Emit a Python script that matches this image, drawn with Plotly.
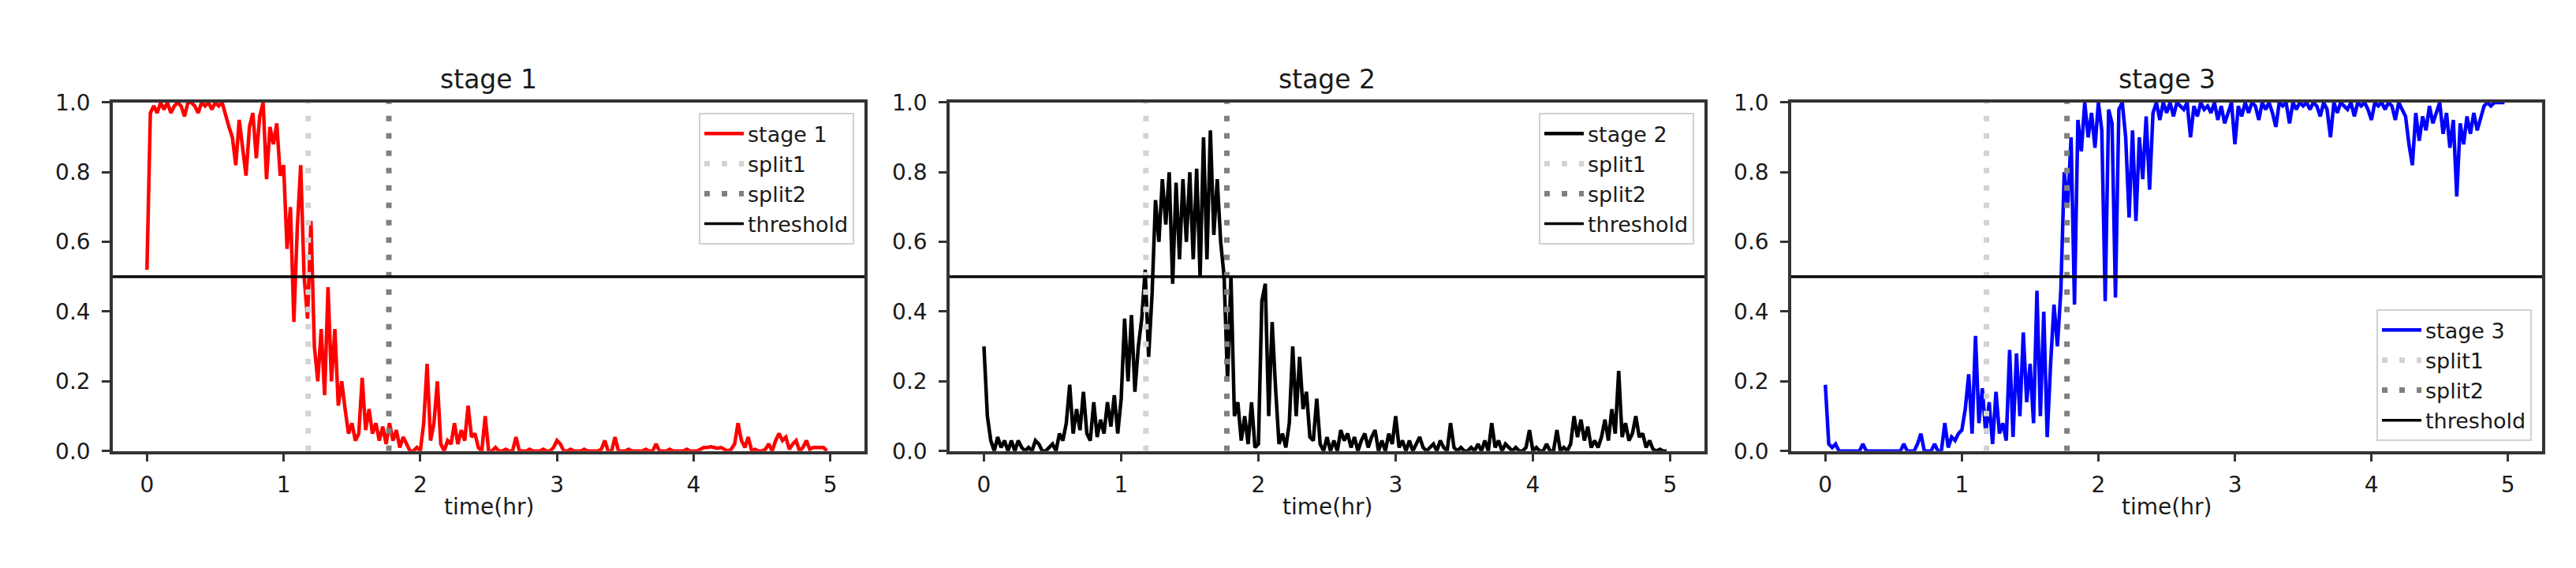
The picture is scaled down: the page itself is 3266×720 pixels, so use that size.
import plotly.graph_objects as go

# ---------------- data ----------------
T_START = 0.0
T_STEP = 0.025
N_POINTS = 200
time_hr = [round(T_START + i * T_STEP, 4) for i in range(N_POINTS)]

stage1 = [
    0.52, 0.97, 0.99, 0.97, 1.0, 0.98, 1.0, 0.97, 0.99, 1.0,
    0.99, 0.96, 1.0, 1.0, 0.99, 0.97, 1.0, 0.99, 1.0, 0.98,
    1.0, 0.99, 1.0, 0.96, 0.93, 0.9, 0.82, 0.95, 0.86, 0.79,
    0.93, 0.97, 0.84, 0.96, 1.0, 0.78, 0.93, 0.88, 0.94, 0.79,
    0.82, 0.58, 0.7, 0.37, 0.64, 0.82, 0.5, 0.38, 0.66, 0.3,
    0.2, 0.35, 0.16, 0.47, 0.2, 0.35, 0.13, 0.2, 0.12, 0.05,
    0.08, 0.03, 0.05, 0.21, 0.06, 0.12, 0.05, 0.08, 0.03, 0.07,
    0.02, 0.08, 0.03, 0.06, 0.01, 0.04, 0.02, 0.0, 0.0, 0.01,
    0.0, 0.08, 0.25, 0.03, 0.08, 0.2, 0.02, 0.0, 0.03, 0.02,
    0.08, 0.02, 0.06, 0.03, 0.13, 0.04, 0.05, 0.01, 0.0, 0.1,
    0.0, 0.0, 0.01, 0.0, 0.0, 0.005, 0.0, 0.0, 0.04, 0.0,
    0.0, 0.0, 0.005, 0.0, 0.0, 0.0, 0.005, 0.0, 0.0, 0.01,
    0.03, 0.02, 0.0, 0.0, 0.005, 0.0, 0.0, 0.0, 0.005, 0.0,
    0.0, 0.0, 0.0, 0.005, 0.03, 0.0, 0.0, 0.04, 0.0, 0.0,
    0.0, 0.005, 0.0, 0.0, 0.0, 0.0, 0.005, 0.0, 0.0, 0.02,
    0.0, 0.0, 0.0, 0.005, 0.0, 0.0, 0.0, 0.0, 0.005, 0.0,
    0.0, 0.0, 0.005, 0.01, 0.01, 0.012, 0.01, 0.008, 0.01, 0.005,
    0.0, 0.005, 0.02, 0.08, 0.03, 0.01, 0.04, 0.0, 0.005, 0.0,
    0.0, 0.005, 0.02, 0.0, 0.03, 0.05, 0.03, 0.04, 0.005, 0.02,
    0.03, 0.0, 0.01, 0.03, 0.005, 0.01, 0.01, 0.008, 0.01, 0.0,
]

stage2 = [
    0.3, 0.1, 0.03, 0.0, 0.04, 0.01, 0.03, 0.0, 0.03, 0.0,
    0.03, 0.01, 0.0, 0.01, 0.0, 0.03, 0.02, 0.0, 0.0, 0.01,
    0.02, 0.0, 0.05, 0.03, 0.08, 0.19, 0.05, 0.12, 0.06, 0.17,
    0.05, 0.03, 0.14, 0.04, 0.09, 0.05, 0.14, 0.07, 0.16, 0.05,
    0.15, 0.38, 0.2, 0.39, 0.17, 0.3, 0.38, 0.52, 0.27, 0.45,
    0.72, 0.6, 0.78, 0.65, 0.8, 0.48, 0.77, 0.55, 0.78, 0.6,
    0.8, 0.55, 0.81, 0.5, 0.9, 0.55, 0.92, 0.62, 0.78, 0.6,
    0.5, 0.2, 0.5, 0.1, 0.14, 0.03, 0.1, 0.02, 0.14, 0.01,
    0.02, 0.43, 0.48, 0.1, 0.37, 0.18, 0.02, 0.05, 0.01, 0.08,
    0.3, 0.1, 0.27, 0.12, 0.17, 0.04, 0.03, 0.15, 0.02, 0.0,
    0.04, 0.0, 0.03, 0.0, 0.06, 0.03, 0.05, 0.01, 0.04, 0.0,
    0.03, 0.05, 0.01, 0.04, 0.06, 0.0, 0.03, 0.0, 0.05, 0.02,
    0.1, 0.01, 0.03, 0.0, 0.03, 0.0, 0.02, 0.04, 0.01, 0.0,
    0.01, 0.02, 0.0, 0.03, 0.01, 0.0, 0.08, 0.01, 0.0, 0.01,
    0.0, 0.0, 0.01, 0.0, 0.02, 0.0, 0.03, 0.0, 0.08, 0.01,
    0.03, 0.0, 0.02, 0.01, 0.0, 0.01, 0.0, 0.0, 0.01, 0.06,
    0.0, 0.01, 0.0, 0.0, 0.02, 0.0, 0.0, 0.06, 0.0, 0.01,
    0.0, 0.02, 0.10, 0.04, 0.09, 0.03, 0.07, 0.01, 0.03, 0.01,
    0.04, 0.09, 0.03, 0.12, 0.05, 0.23, 0.04, 0.08, 0.03, 0.05,
    0.10, 0.04, 0.05, 0.01, 0.03, 0.005, 0.0, 0.005, 0.0, 0.0,
]

stage3 = [
    0.19, 0.02, 0.01, 0.02, 0.0, 0.0, 0.0, 0.0, 0.0, 0.0,
    0.0, 0.02, 0.0, 0.0, 0.0, 0.0, 0.0, 0.0, 0.0, 0.0,
    0.0, 0.0, 0.0, 0.02, 0.0, 0.0, 0.0, 0.02, 0.05, 0.0,
    0.0, 0.0, 0.02, 0.0, 0.0, 0.08, 0.01, 0.04, 0.03, 0.05,
    0.06, 0.12, 0.22, 0.05, 0.33, 0.08, 0.18, 0.05, 0.14, 0.02,
    0.17, 0.05, 0.08, 0.03, 0.29, 0.04, 0.28, 0.1, 0.34, 0.14,
    0.25, 0.08, 0.46, 0.1, 0.4, 0.04, 0.25, 0.42, 0.3, 0.46,
    0.8, 0.7, 0.9, 0.42, 0.95, 0.86, 1.0, 0.9, 0.97, 0.87,
    1.0, 0.92, 0.43, 0.98, 0.94, 0.44, 0.98, 1.0, 0.9, 0.67,
    0.92, 0.66, 0.9, 0.78, 0.96, 0.75, 0.97, 1.0, 0.95, 1.0,
    0.97, 1.0, 0.96, 1.0, 0.99, 0.98, 1.0, 0.9, 0.99, 0.96,
    1.0, 0.98, 0.99, 0.97, 1.0, 0.95, 0.99, 0.94, 0.97, 1.0,
    0.88, 0.99, 0.96, 1.0, 0.97, 1.0, 0.99, 0.95, 1.0, 0.98,
    1.0, 0.97, 0.93, 1.0, 0.99, 1.0, 0.94, 1.0, 0.98, 1.0,
    0.99, 1.0, 0.98, 1.0, 0.99, 0.96, 1.0, 0.98, 0.90, 1.0,
    0.97, 1.0, 0.99, 0.98, 1.0, 0.96, 1.0, 0.99, 1.0, 0.98,
    0.95, 1.0, 0.99, 1.0, 0.98, 1.0, 0.99, 0.95, 1.0, 0.98,
    0.96, 0.88, 0.82, 0.97, 0.89, 0.96, 0.92, 0.99, 0.94, 0.97,
    1.0, 0.91, 0.97, 0.87, 0.95, 0.73, 0.94, 0.88, 0.96, 0.91,
    0.97, 0.92, 0.96, 0.99, 1.0, 0.99, 1.0, 1.0, 1.0, 1.0,
]

split1_hr = 1.18
split2_hr = 1.77
threshold = 0.5

panel_titles = ["stage 1", "stage 2", "stage 3"]
series_names = ["stage 1", "stage 2", "stage 3"]
series_colors = ["#ff0000", "#000000", "#0000ff"]
series_values = [stage1, stage2, stage3]

x_tick_vals = [0, 1, 2, 3, 4, 5]
y_tick_vals = [0.0, 0.2, 0.4, 0.6, 0.8, 1.0]
x_range = [-0.25, 5.25]
y_range = [0.0, 1.0]
x_label = "time(hr)"

# ---------------- layout geometry ----------------
W, H = 3266, 720
FONT = "DejaVu Sans"
TXT = "#1a1a1a"
AXC = "#333333"
x_domains = [[135 / W, 1088 / W], [1196 / W, 2153 / W], [2263 / W, 3215 / W]]
y_domain = [1 - 574 / H, 1 - 111 / H]

legend_specs = [
    dict(x=1075 / W, y=1 - 125 / H, xanchor="right", yanchor="top"),
    dict(x=2140 / W, y=1 - 125 / H, xanchor="right", yanchor="top"),
    dict(x=3202 / W, y=1 - 561 / H, xanchor="right", yanchor="bottom"),
]

fig = go.Figure()
layout = dict(
    width=W, height=H,
    margin=dict(l=0, r=0, t=0, b=0),
    paper_bgcolor="white", plot_bgcolor="white",
    font=dict(family=FONT, color=TXT, size=28),
    annotations=[],
)

for k in range(3):
    sfx = "" if k == 0 else str(k + 1)
    xa, ya = "x" + sfx, "y" + sfx
    lg = "legend" + sfx
    common = dict(xaxis=xa, yaxis=ya, legend=lg, mode="lines", hoverinfo="skip")
    fig.add_trace(go.Scatter(
        x=time_hr, y=series_values[k], name=series_names[k],
        line=dict(color=series_colors[k], width=4.5), legendgroup=f"s{k}", **common))
    fig.add_trace(go.Scatter(
        x=[split1_hr, split1_hr], y=y_range, name="split1",
        line=dict(color="#d3d3d3", width=7, dash="7px,15px"), legendgroup=f"a{k}", **common))
    fig.add_trace(go.Scatter(
        x=[split2_hr, split2_hr], y=y_range, name="split2",
        line=dict(color="#808080", width=7, dash="7px,15px"), legendgroup=f"b{k}", **common))
    fig.add_trace(go.Scatter(
        x=x_range, y=[threshold, threshold], name="threshold",
        line=dict(color="#000000", width=3.5), legendgroup=f"c{k}", **common))

    axis_common = dict(
        showline=True, linecolor=AXC, linewidth=3.5, mirror=True,
        ticks="outside", ticklen=10, tickwidth=3, tickcolor=AXC,
        showgrid=False, zeroline=False, fixedrange=True,
        tickfont=dict(family=FONT, size=28, color=TXT),
    )
    layout["xaxis" + sfx] = dict(
        domain=x_domains[k], range=x_range, anchor=ya,
        tickmode="array", tickvals=x_tick_vals, ticklabelstandoff=5, **axis_common)
    layout["yaxis" + sfx] = dict(
        domain=y_domain, range=y_range, anchor=xa,
        tickmode="array", tickvals=y_tick_vals, tickformat=".1f",
        ticklabelstandoff=9, **axis_common)
    layout[lg] = dict(
        **legend_specs[k],
        bgcolor="rgba(255,255,255,0.85)", bordercolor="#d0d0d0", borderwidth=2,
        font=dict(family=FONT, size=27, color=TXT),
        itemwidth=50, tracegroupgap=12, traceorder="normal",
    )
    cx = (x_domains[k][0] + x_domains[k][1]) / 2
    layout["annotations"].append(dict(
        text=panel_titles[k], x=cx, y=1 - 80 / H, xref="paper", yref="paper",
        xanchor="center", yanchor="middle", showarrow=False,
        font=dict(family=FONT, size=33, color=TXT)))
    layout["annotations"].append(dict(
        text=x_label, x=cx, y=1 - 648 / H, xref="paper", yref="paper",
        xanchor="center", yanchor="middle", showarrow=False,
        font=dict(family=FONT, size=28, color=TXT)))

fig.update_layout(**layout)
fig.write_html("out.html")
